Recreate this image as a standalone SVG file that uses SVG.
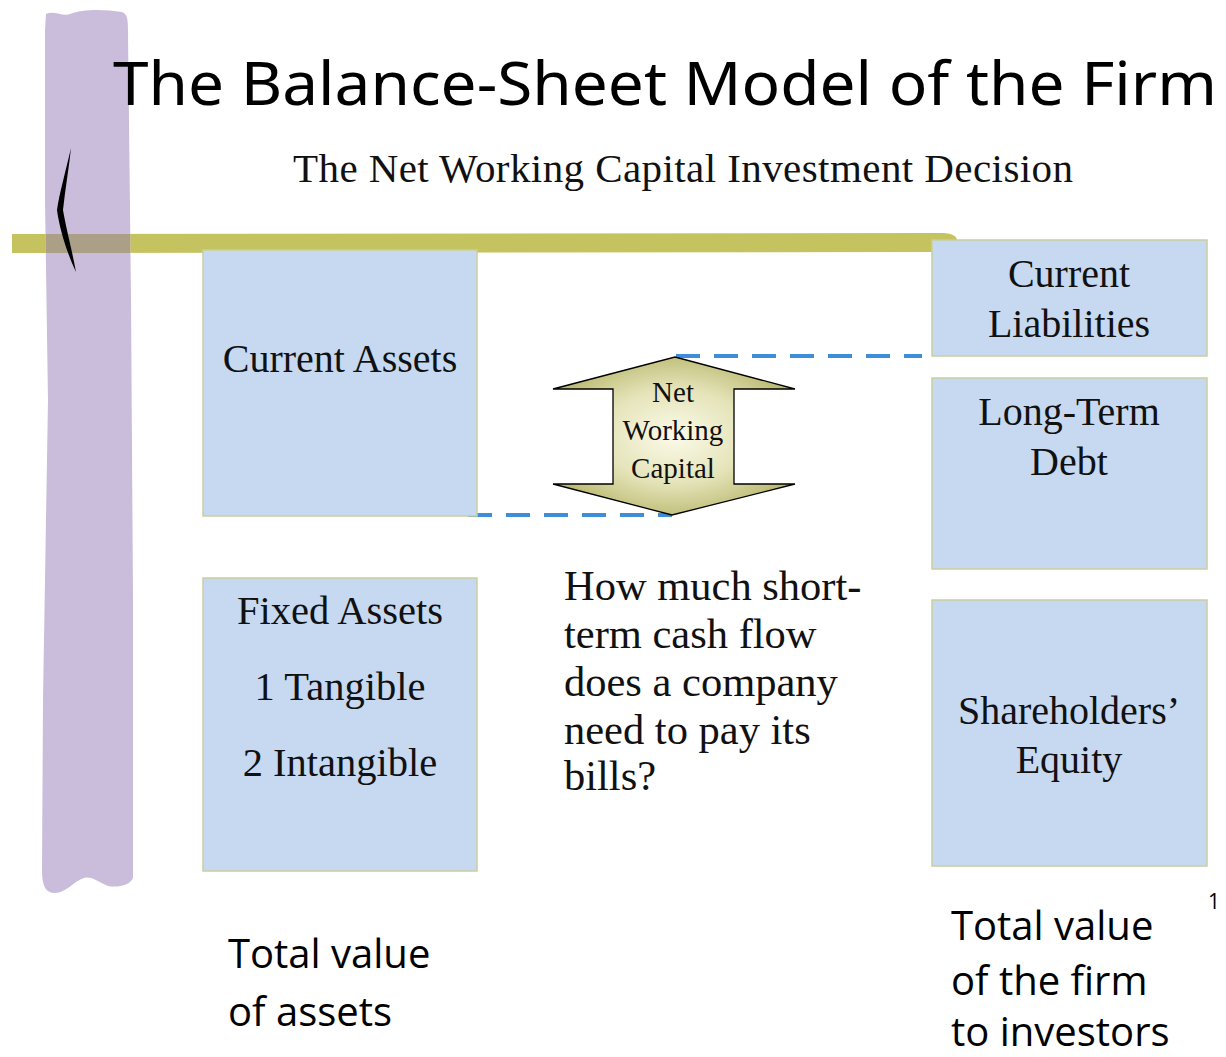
<svg xmlns="http://www.w3.org/2000/svg" width="1226" height="1057" viewBox="0 0 1226 1057">
  <style>
    .box { fill: #c6d9f1; stroke: #c8cf9e; stroke-width: 1.5; }
    .serif { font-family: "Liberation Serif", "Times New Roman", serif; fill: #111; }
    .sans { font-family: "Open Sans", "Liberation Sans", sans-serif; fill: #000; }
    .dash { stroke: #3d8ddb; stroke-width: 4; stroke-dasharray: 24 14; fill: none; }
  </style>
  <defs>
    <radialGradient id="nwcGrad" cx="0.5" cy="0.5" r="0.55">
      <stop offset="0" stop-color="#fbfbea"/>
      <stop offset="0.55" stop-color="#e4e3b8"/>
      <stop offset="1" stop-color="#b9b86e"/>
    </radialGradient>
  </defs>
  <rect width="1226" height="1057" fill="#ffffff"/>

  <!-- decoration -->
  <g id="decoration">
    <path d="M12,234 L940,233 C952,233 958,236 957,242 C957,249 950,252 940,252 L12,253 Z" fill="#c4c35f"/>
    <path d="M46,14 C55,10 62,17 70,14 C82,9 104,9 122,12 C128,14 128,22 128,32 L131,300 L133,600 L133,878 C130,885 118,888 108,886 C98,882 92,876 84,878 C74,881 66,893 55,893 C45,893 42,885 42,870 L43,700 L48,400 L45,200 L45,30 Z" fill="#c9bddb"/>
    <rect x="46" y="234" width="84" height="19" fill="#ab9f88"/>
    <path d="M71,148 C66,170 59,195 57,210 C60,232 68,255 76,272 C72,250 66,228 63,210 C65,190 69,168 71,148 Z" fill="#000"/>
  </g>

  <!-- titles -->
  <g id="title">
    <text x="113" y="105" font-family="'Noto Sans', 'DejaVu Sans', sans-serif" font-size="60" fill="#000" textLength="1104" lengthAdjust="spacingAndGlyphs">The Balance-Sheet Model of the Firm</text>
    <text class="serif" x="293" y="182" font-size="41" textLength="780" lengthAdjust="spacing">The Net Working Capital Investment Decision</text>
  </g>

  <!-- connectors -->
  <g id="connectors">
    <line class="dash" x1="676" y1="356" x2="922" y2="356"/>
    <line class="dash" x1="468" y1="515" x2="672" y2="515"/>
  </g>

  <!-- nodes -->
  <g id="current-assets">
    <rect class="box" x="203" y="250" width="274" height="266"/>
    <text class="serif" x="340" y="372" font-size="40" text-anchor="middle">Current Assets</text>
  </g>

  <g id="fixed-assets">
    <rect class="box" x="203" y="578" width="274" height="293"/>
    <text class="serif" x="340" y="624" font-size="40.5" text-anchor="middle">Fixed Assets</text>
    <text class="serif" x="340" y="700" font-size="40.5" text-anchor="middle">1 Tangible</text>
    <text class="serif" x="340" y="776" font-size="40.5" text-anchor="middle">2 Intangible</text>
  </g>

  <g id="current-liabilities">
    <rect class="box" x="932" y="240" width="275" height="116"/>
    <text class="serif" x="1069" y="287" font-size="40" text-anchor="middle">Current</text>
    <text class="serif" x="1069" y="337" font-size="40" text-anchor="middle">Liabilities</text>
  </g>

  <g id="long-term-debt">
    <rect class="box" x="932" y="378" width="275" height="191"/>
    <text class="serif" x="1069" y="425" font-size="40" text-anchor="middle">Long-Term</text>
    <text class="serif" x="1069" y="475" font-size="40" text-anchor="middle">Debt</text>
  </g>

  <g id="shareholders-equity">
    <rect class="box" x="932" y="600" width="275" height="266"/>
    <text class="serif" x="1069" y="724" font-size="40" text-anchor="middle">Shareholders’</text>
    <text class="serif" x="1069" y="773" font-size="40" text-anchor="middle">Equity</text>
  </g>

  <g id="net-working-capital">
    <path d="M675,357 L795,389 L734,389 L734,484 L795,484 L672,515 L553,484 L613,484 L613,389 L553,389 Z" fill="url(#nwcGrad)" stroke="#000" stroke-width="1.3" stroke-linejoin="miter"/>
    <text class="serif" x="673" y="402" font-size="29" text-anchor="middle">Net</text>
    <text class="serif" x="673" y="440" font-size="29" text-anchor="middle">Working</text>
    <text class="serif" x="673" y="478" font-size="29" text-anchor="middle">Capital</text>
  </g>

  <g id="question">
    <text class="serif" font-size="42.5">
      <tspan x="564" y="600">How much short-</tspan>
      <tspan x="564" y="648">term cash flow</tspan>
      <tspan x="564" y="696">does a company</tspan>
      <tspan x="564" y="744">need to pay its</tspan>
      <tspan x="564" y="790">bills?</tspan>
    </text>
  </g>

  <g id="total-assets">
    <text class="sans" font-size="40">
      <tspan x="228" y="968">Total value</tspan>
      <tspan x="228" y="1026">of assets</tspan>
    </text>
  </g>

  <g id="total-firm">
    <text class="sans" font-size="40">
      <tspan x="951" y="940">Total value</tspan>
      <tspan x="951" y="995">of the firm</tspan>
      <tspan x="951" y="1046">to investors</tspan>
    </text>
  </g>

  <text class="sans" x="1208" y="909" font-size="21" fill="#222">1</text>
</svg>
